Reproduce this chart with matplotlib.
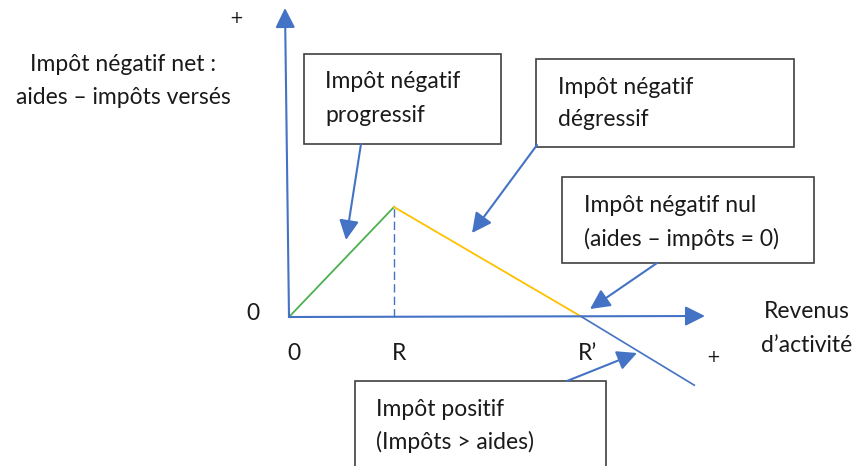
import matplotlib.pyplot as plt
from matplotlib.patches import Rectangle

plt.rcParams['font.family'] = ['Lato', 'DejaVu Sans']

# schematic data: income (x) vs net negative tax (y)
income = [0, 1, 2.79, 3.86]      # 0, R, R', end
net_tax = [0, 1, 0, -0.62]
tick_labels = ['0', 'R', 'R\u2019']

blue = '#4472C4'
green = '#4CB050'
orange = '#FFC000'
txt = '#1a1a1a'
edge = '#404040'

# pixel -> data helpers (origin at pixel 289,317 ; 105 px per unit x, 110 px per unit y)
X0, Y0, SX, SY = 289, 317, 105.0, 110.0
def px(x):
    return (x - X0) / SX
def py(y):
    return (Y0 - y) / SY

fig = plt.figure(figsize=(8.57, 4.66), dpi=100)
ax = fig.add_axes([0, 0, 1, 1])
ax.set_xlim(px(0), px(857))
ax.set_ylim(py(466), py(0))
ax.axis('off')

arrow_kw = dict(arrowstyle='-|>,head_length=1.0,head_width=0.5', color=blue,
                lw=1.5, mutation_scale=12, shrinkA=0, shrinkB=0)

# axes
ax.annotate('', xy=(px(285), py(8)), xytext=(0, 0), arrowprops=arrow_kw)
ax.annotate('', xy=(px(705), py(316)), xytext=(0, 0), arrowprops=arrow_kw)

# curve
ax.plot(income[0:2], net_tax[0:2], color=green, lw=1.3)
ax.plot(income[1:3], net_tax[1:3], color=orange, lw=1.3)
ax.plot(income[2:4], net_tax[2:4], color=blue, lw=1.2)
ax.plot([income[1], income[1]], [0, net_tax[1]], color=blue, lw=1.0,
        linestyle=(0, (6, 3)))

# tick labels under the x axis
fs = 16.5
for xv, lab in zip(income[:3], tick_labels):
    ax.text(xv + 0.05, py(353), lab, fontsize=fs, color=txt, ha='center', va='center')
ax.text(px(253), 0.03, '0', fontsize=fs, color=txt, ha='center', va='center')
ax.text(px(236), py(18), '+', fontsize=12, color=txt, ha='center', va='center',
        family='DejaVu Sans')
ax.text(px(713), py(357), '+', fontsize=12, color=txt, ha='center', va='center',
        family='DejaVu Sans')

ax.text(px(123), py(64), 'Impôt négatif net :', fontsize=fs, color=txt, ha='center', va='center')
ax.text(px(123), py(98), 'aides \u2013 impôts versés', fontsize=fs, color=txt, ha='center', va='center')
ax.text(px(807), py(312), 'Revenus', fontsize=fs, color=txt, ha='center', va='center')
ax.text(px(807), py(346), 'd\u2019activité', fontsize=fs, color=txt, ha='center', va='center')

# boxes: (left, top, right, bottom) in pixels, text x, line y's
boxes = [
    ((304, 54, 501, 144), 325, ['Impôt négatif', 'progressif'], (82, 115)),
    ((536, 59, 794, 147), 558, ['Impôt négatif', 'dégressif'], (87, 120)),
    ((562, 177, 814, 263), 584, ['Impôt négatif nul', '(aides \u2013 impôts = 0)'], (206, 239)),
    ((355, 381, 606, 475), 376, ['Impôt positif', '(Impôts > aides)'], (409, 442)),
]
for (l, t, r, b), tx, lines, ys in boxes:
    ax.add_patch(Rectangle((px(l), py(b)), px(r) - px(l), py(t) - py(b),
                           fill=True, facecolor='white', edgecolor=edge, lw=1.2, zorder=3,
                           clip_on=False))
    for line, yy in zip(lines, ys):
        ax.text(px(tx), py(yy), line, fontsize=fs, color=txt, ha='left', va='center', zorder=4)

# callout arrows
callouts = [((361, 144), (346, 240)),
            ((537, 145), (472, 233)),
            ((657, 263), (590, 309)),
            ((567, 381), (637, 353))]
for (sx, sy), (ex, ey) in callouts:
    ax.annotate('', xy=(px(ex), py(ey)), xytext=(px(sx), py(sy)), arrowprops=arrow_kw, zorder=5)

fig.savefig('out.png', dpi=100, facecolor='white')
